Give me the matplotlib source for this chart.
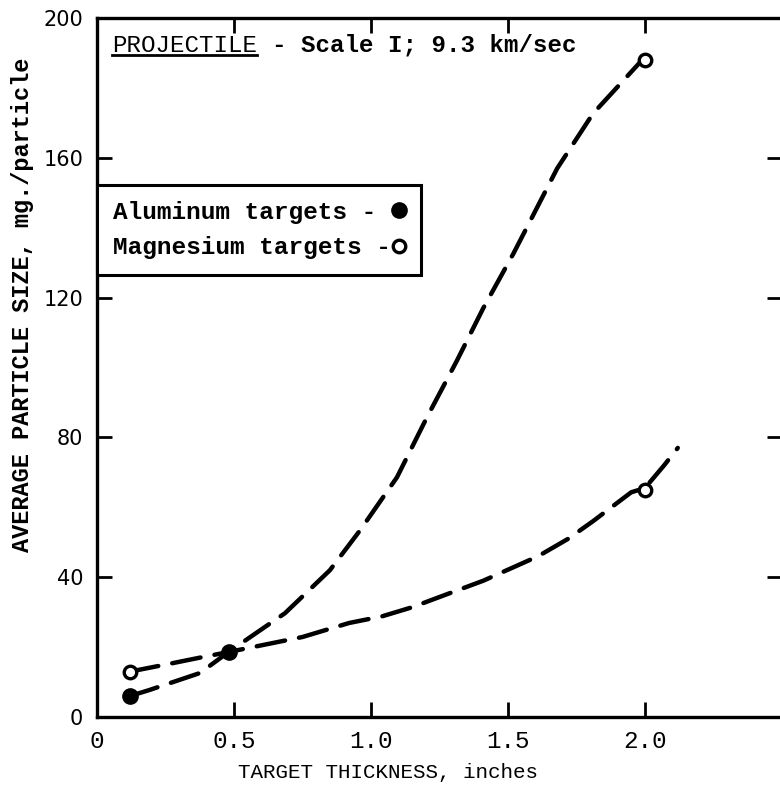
import matplotlib.pyplot as plt
from matplotlib.lines import Line2D

# values
thick_steep = [0.12, 0.19, 0.376, 0.48, 0.686, 0.85, 0.96, 1.095, 1.204, 1.314, 1.41, 1.52, 1.68, 1.81, 1.92, 1.99]
size_steep = [6, 7.7, 12.6, 18.6, 29.7, 42, 53.4, 68.6, 85.7, 102, 117, 132.6, 157, 172.6, 182, 188]

thick_flat = [0.12, 0.25, 0.376, 0.48, 0.75, 0.92, 1.04, 1.15, 1.30, 1.41, 1.61, 1.72, 1.81, 1.95, 2.0, 2.07, 2.12]
size_flat = [13, 15, 17, 18.6, 22.9, 26.9, 28.8, 31.4, 35.8, 39, 46, 51, 56, 64.3, 65.5, 72, 77]

al_x = [0.12, 0.48]
al_y = [6, 18.6]
mg_x = [0.12, 2.0, 2.0]
mg_y = [13, 188, 65]

xticks = [0, 0.5, 1.0, 1.5, 2.0]
xtick_labels = ['0', '0.5', '1.0', '1.5', '2.0']
yticks = [0, 40, 80, 120, 160, 200]

mono = 'Liberation Mono'

fig = plt.figure(figsize=(7.8, 7.93), dpi=100)
ax = fig.add_axes([0.1244, 0.0958, 0.878, 0.8815])

line_kw = dict(color='black', lw=3.2, dashes=(6.5, 3.2), dash_capstyle='round', solid_capstyle='round')
ax.plot(thick_steep, size_steep, **line_kw)
ax.plot(thick_flat, size_flat, **line_kw)

ax.plot(al_x, al_y, 'o', color='black', ms=11, zorder=5)
ax.plot(mg_x, mg_y, 'o', mfc='white', mec='black', mew=2.4, ms=9, zorder=5)

ax.set_xlim(0, 2.5)
ax.set_ylim(0, 200)
ax.set_xticks(xticks)
ax.set_xticklabels(xtick_labels, fontfamily=mono, fontsize=17.5)
ax.set_yticks(yticks)
ax.set_yticklabels([str(v) for v in yticks], fontfamily='DejaVu Sans', fontsize=15)
ax.tick_params(direction='in', length=11, width=2, top=True, right=True, color='black')
ax.tick_params(axis='x', pad=9)
ax.tick_params(axis='y', pad=10)
for s in ax.spines.values():
    s.set_linewidth(2.4)

ax.set_xlabel('TARGET THICKNESS, inches', fontfamily=mono, fontsize=15, va='center')
ax.xaxis.set_label_coords(0.425, -0.079)
ax.set_ylabel('AVERAGE PARTICLE SIZE, mg./particle', fontfamily=mono, fontsize=17,
              fontweight='bold', va='center', ha='center')
ax.yaxis.set_label_coords(-0.1095, 0.589)

t1 = ax.text(0.022, 0.961, 'PROJECTILE', transform=ax.transAxes, fontfamily=mono,
             fontsize=17.4, va='center', ha='left')

handles = [Line2D([], [], ls='none', marker='o', color='black', ms=11),
           Line2D([], [], ls='none', marker='o', mfc='white', mec='black', mew=2.4, ms=9)]
leg = ax.legend(handles, ['Aluminum targets - ', 'Magnesium targets -'], loc='upper left',
                bbox_to_anchor=(0.0, 0.761), markerfirst=False, fancybox=False,
                edgecolor='black', framealpha=1, handlelength=0.5, handletextpad=0.1,
                borderpad=0.65, labelspacing=0.5, borderaxespad=0,
                prop={'family': mono, 'size': 17.6, 'weight': 'bold'})
leg.get_frame().set_linewidth(2.2)

# underline PROJECTILE and put the rest of the heading right after it
fig.canvas.draw()
bb = t1.get_window_extent().transformed(ax.transAxes.inverted())
ax.plot([bb.x0, bb.x1], [bb.y0 + 0.002, bb.y0 + 0.002], color='black', lw=2,
        transform=ax.transAxes, clip_on=False)
ax.text(bb.x1 + 0.022, 0.961, '- Scale I; 9.3 km/sec', transform=ax.transAxes,
        fontfamily=mono, fontsize=17.4, fontweight='bold', va='center', ha='left')

fig.savefig('out.png', dpi=100)
